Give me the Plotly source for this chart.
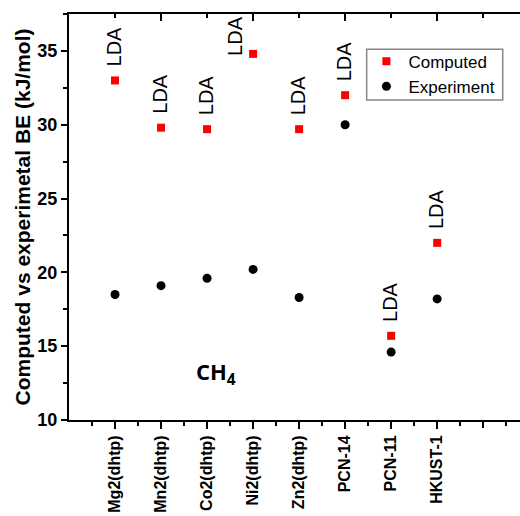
import plotly.graph_objects as go

# Binding energies of CH4 in MOFs (kJ/mol)
frameworks = ["Mg2(dhtp)", "Mn2(dhtp)", "Co2(dhtp)", "Ni2(dhtp)", "Zn2(dhtp)",
              "PCN-14", "PCN-11", "HKUST-1"]
computed = [33.0, 29.8, 29.7, 34.8, 29.7, 32.0, 15.7, 22.0]
experiment = [18.5, 19.1, 19.6, 20.2, 18.3, 30.0, 14.6, 18.2]
method_label = "LDA"
y_ticks = [10, 15, 20, 25, 30, 35]

xpos = list(range(1, len(frameworks) + 1))
FONT = "Arial, Liberation Sans, sans-serif"
TICK = dict(tickwidth=2, tickcolor="black")

fig = go.Figure()
fig.add_trace(go.Scatter(
    x=xpos, y=computed, mode="markers", name="Computed",
    marker=dict(symbol="square", size=8, color="#ff0000"),
))
fig.add_trace(go.Scatter(
    x=xpos, y=experiment, mode="markers", name="Experiment",
    marker=dict(symbol="circle", size=9, color="black"),
))
# invisible traces carrying the extra axes (top frame, last bottom tick)
for ax in ("x2", "x3"):
    fig.add_trace(go.Scatter(x=[xpos[0]], y=[computed[0]], xaxis=ax, mode="markers",
                             marker=dict(opacity=0), showlegend=False, hoverinfo="skip"))

for i, (xv, yv) in enumerate(zip(xpos, computed)):
    # the tallest point gets its label beside it to stay inside the frame
    side = frameworks[i] == "Ni2(dhtp)"
    fig.add_annotation(x=xv, y=yv, text=method_label, textangle=-90, showarrow=False,
                       xanchor="center", yanchor="bottom",
                       xshift=-18 if side else -1, yshift=-4 if side else 12,
                       font=dict(family=FONT, size=20, color="black"))

fig.add_annotation(x=3.2, y=13.2, text="CH<sub>4</sub>", showarrow=False,
                   font=dict(family="Open Sans, sans-serif", size=22, color="black",
                             weight="bold"))

# legend frame
fig.add_shape(type="rect", xref="paper", yref="paper",
              x0=0.660, x1=0.9617, y0=0.788, y1=0.913,
              line=dict(color="#888888", width=1.5), fillcolor="rgba(0,0,0,0)")

xr = [0, 9.8]
fig.update_layout(
    width=520, height=516,
    margin=dict(l=69, r=0, t=14, b=96),
    plot_bgcolor="white", paper_bgcolor="white",
    showlegend=True,
    legend=dict(x=0.655, y=0.927, xanchor="left", yanchor="top",
                borderwidth=0, bgcolor="rgba(0,0,0,0)",
                font=dict(family=FONT, size=17, color="black"),
                tracegroupgap=0, itemwidth=34),
    xaxis=dict(
        range=xr, showgrid=False, zeroline=False,
        showline=True, linecolor="black", linewidth=2,
        tickmode="array", tickvals=xpos, ticktext=frameworks,
        ticks="outside", ticklen=7, **TICK,
        tickangle=-90,
        tickfont=dict(family=FONT, size=16, color="black", weight="bold"),
        minor=dict(tickmode="array", tickvals=[i + 0.5 for i in range(0, 10)],
                   ticks="outside", ticklen=4, **TICK),
    ),
    xaxis2=dict(
        range=xr, overlaying="x", side="top", showgrid=False, zeroline=False,
        showline=True, linecolor="black", linewidth=2,
        tickmode="array", tickvals=[2, 4, 6, 8], showticklabels=False,
        ticks="inside", ticklen=7, **TICK,
        minor=dict(tickmode="array", tickvals=[1, 3, 5, 7, 9],
                   ticks="inside", ticklen=4, **TICK),
    ),
    xaxis3=dict(
        range=xr, overlaying="x", side="bottom", showgrid=False, zeroline=False,
        showline=False, tickmode="array", tickvals=[9], showticklabels=False,
        ticks="outside", ticklen=7, **TICK,
    ),
    yaxis=dict(
        range=[10, 37.5], showgrid=False, zeroline=False,
        showline=True, linecolor="black", linewidth=2,
        tickmode="array", tickvals=y_ticks,
        ticks="outside", ticklen=6, **TICK,
        tickfont=dict(family=FONT, size=18, color="black", weight="bold"),
        minor=dict(tickmode="array", tickvals=[12.5, 17.5, 22.5, 27.5, 32.5, 37.5],
                   ticks="outside", ticklen=4, **TICK),
        title=dict(text="Computed vs experimetal BE (kJ/mol)", standoff=1,
                   font=dict(family=FONT, size=21, color="black", weight="bold")),
    ),
)

fig.write_html("out.html")
